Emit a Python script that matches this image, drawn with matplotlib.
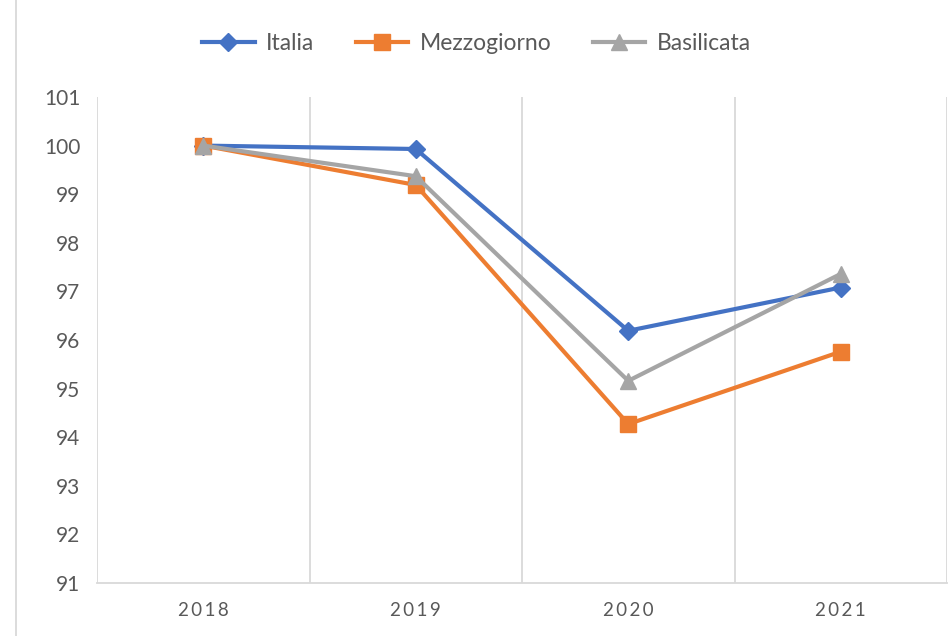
import numpy as np
import matplotlib
matplotlib.use("Agg")
from matplotlib import pyplot as plt
from matplotlib.lines import Line2D

anni = ["2018", "2019", "2020", "2021"]
italia = [100.0, 99.93, 96.19, 97.08]
mezzogiorno = [100.0, 99.19, 94.27, 95.76]
basilicata = [100.0, 99.37, 95.16, 97.36]

matplotlib.rcParams['font.family'] = ['Lato', 'DejaVu Sans']
grigio = '#595959'

f1 = plt.figure(figsize=(9.53, 6.36), dpi=100)
ax = f1.add_axes((0.1018, 0.0833, 0.8919, 0.7642))

x = np.arange(len(anni))
ax.plot(x, italia, color='#4472C4', lw=3, marker='D', ms=9, label='Italia', zorder=3)
ax.plot(x, mezzogiorno, color='#ED7D31', lw=3, marker='s', ms=11.5, label='Mezzogiorno', zorder=4)
ax.plot(x, basilicata, color='#A5A5A5', lw=3, marker='^', ms=11.5, label='Basilicata', zorder=5)

ax.set_xlim(-0.5, 3.5)
ax.set_ylim(91, 101)
ax.set_yticks(range(91, 102))
ax.set_xticks(x)
ax.set_xticklabels(["\u2009".join(a) for a in anni])
ax.set_xticks(np.arange(-0.5, 4, 1.0), minor=True)
ax.grid(True, which='minor', axis='x', color='#d9d9d9', lw=1.3)

for s in ['left', 'top', 'right']:
    ax.spines[s].set_visible(False)
ax.spines['bottom'].set_color('#d9d9d9')
ax.spines['bottom'].set_linewidth(1.3)
ax.tick_params(which='both', length=0, colors=grigio, labelsize=15)
ax.tick_params(axis='y', pad=12)
ax.tick_params(axis='x', pad=14, labelsize=13.5)

ax.legend(loc='center', ncol=3, frameon=False,
          fontsize=16.5, labelcolor=grigio, handlelength=2.3, handletextpad=0.5,
          columnspacing=1.8, bbox_to_anchor=(0.5, 1 - 44/636),
          bbox_transform=f1.transFigure)

# bordo del grafico
f1.add_artist(Line2D([16/953, 16/953], [0, 1], transform=f1.transFigure, color='#d9d9d9', lw=1.3))

f1.savefig('out.png', dpi=100)
